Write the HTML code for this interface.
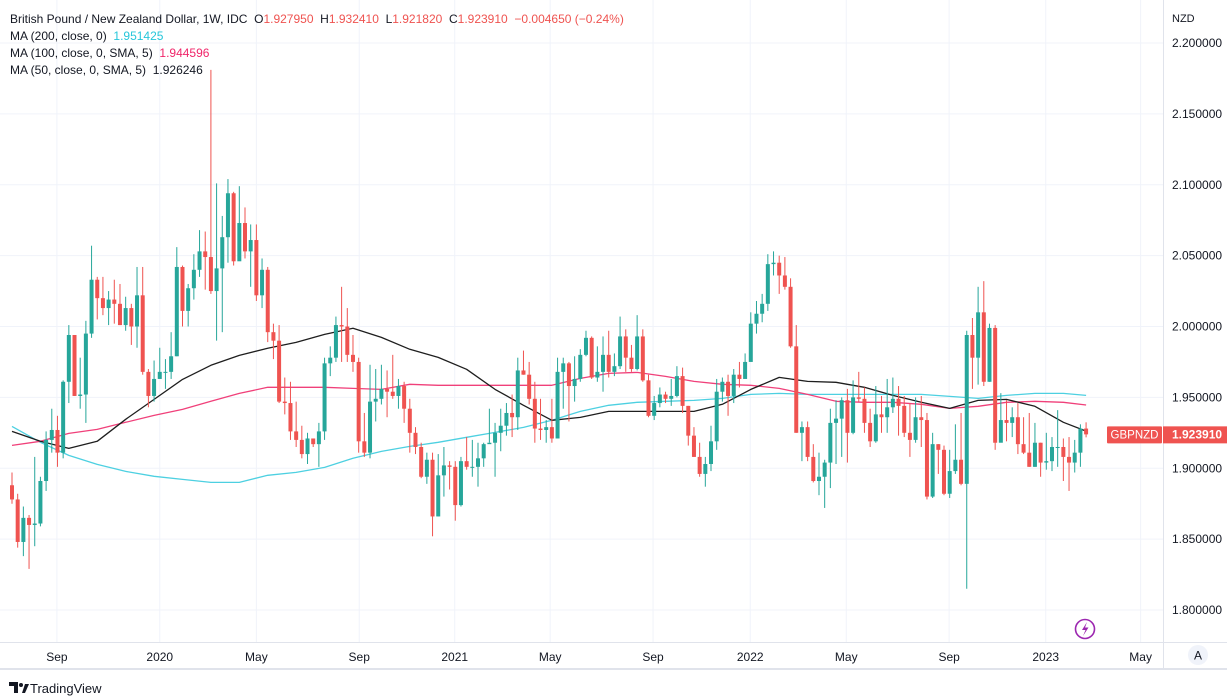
<!DOCTYPE html>
<html><head><meta charset="utf-8">
<style>
html,body{margin:0;padding:0;background:#fff;}
body{width:1227px;height:700px;overflow:hidden;position:relative;font-family:"Liberation Sans",sans-serif;}
#chart{position:absolute;left:0;top:0;}
.legend{position:absolute;left:10px;font-size:12px;color:#131722;white-space:nowrap;}
.red{color:#ef5350}
</style></head>
<body>
<svg id="chart" width="1227" height="700" xmlns="http://www.w3.org/2000/svg"></svg>
<div class="legend" style="top:12px">British Pound / New Zealand Dollar, 1W, IDC&nbsp;&nbsp;O<span class="red">1.927950</span>&nbsp;&nbsp;H<span class="red">1.932410</span>&nbsp;&nbsp;L<span class="red">1.921820</span>&nbsp;&nbsp;C<span class="red">1.923910</span>&nbsp;&nbsp;<span class="red">−0.004650 (−0.24%)</span></div>
<div class="legend" style="top:29px">MA (200, close, 0)&nbsp;&nbsp;<span style="color:#26c6da">1.951425</span></div>
<div class="legend" style="top:46px">MA (100, close, 0, SMA, 5)&nbsp;&nbsp;<span style="color:#f0266a">1.944596</span></div>
<div class="legend" style="top:63px">MA (50, close, 0, SMA, 5)&nbsp;&nbsp;<span style="color:#131722">1.926246</span></div>
<script>
const closes=[1.878,1.848,1.865,1.860,1.861,1.891,1.920,1.927,1.911,1.961,1.994,1.951,1.952,1.995,2.033,2.020,2.013,2.019,2.016,2.001,2.013,2.000,2.022,1.968,1.951,1.963,1.968,1.968,1.979,2.042,2.011,2.027,2.040,2.053,2.049,2.025,2.041,2.063,2.094,2.046,2.073,2.053,2.061,2.022,2.040,1.996,1.990,1.947,1.946,1.926,1.920,1.910,1.921,1.917,1.926,1.974,1.978,2.001,2.000,1.980,1.975,1.919,1.911,1.947,1.949,1.956,1.954,1.951,1.958,1.942,1.925,1.915,1.894,1.906,1.866,1.895,1.902,1.901,1.874,1.905,1.901,1.901,1.907,1.917,1.918,1.925,1.930,1.939,1.936,1.969,1.966,1.949,1.928,1.927,1.929,1.921,1.968,1.974,1.958,1.963,1.980,1.992,1.964,1.968,1.980,1.968,1.972,1.993,1.978,1.970,1.993,1.962,1.937,1.946,1.952,1.949,1.951,1.965,1.944,1.923,1.908,1.896,1.903,1.919,1.954,1.961,1.951,1.966,1.963,1.975,2.002,2.009,2.016,2.044,2.045,2.036,2.028,1.986,1.925,1.929,1.908,1.891,1.894,1.904,1.932,1.935,1.948,1.925,1.950,1.949,1.932,1.919,1.938,1.936,1.943,1.949,1.944,1.925,1.920,1.936,1.934,1.880,1.917,1.913,1.882,1.898,1.906,1.889,1.994,1.978,2.010,1.961,1.999,1.918,1.934,1.932,1.936,1.917,1.911,1.901,1.918,1.904,1.905,1.915,1.915,1.908,1.904,1.911,1.928,1.9239];
const highs=[1.897,1.882,1.873,1.867,1.908,1.894,1.926,1.942,1.937,1.962,2.001,1.993,1.978,2.004,2.057,2.035,2.035,2.025,2.033,2.030,2.021,2.016,2.042,2.042,1.970,1.976,1.985,1.977,1.996,2.056,2.043,2.030,2.051,2.068,2.067,2.181,2.101,2.078,2.104,2.095,2.099,2.084,2.072,2.072,2.048,2.042,2.002,2.001,1.964,1.961,1.947,1.930,1.925,1.921,1.932,1.978,1.986,2.007,2.028,2.013,1.994,1.978,1.939,1.973,1.970,1.973,1.969,1.980,1.963,1.961,1.949,1.929,1.918,1.911,1.911,1.910,1.915,1.905,1.905,1.908,1.922,1.920,1.918,1.918,1.942,1.932,1.942,1.946,1.952,1.978,1.983,1.975,1.961,1.949,1.934,1.949,1.978,1.978,1.975,1.979,1.984,1.997,1.993,1.986,1.993,1.997,1.981,2.007,1.998,1.987,2.008,1.998,1.966,1.951,1.957,1.954,1.963,1.972,1.971,1.944,1.929,1.918,1.908,1.930,1.963,1.964,1.966,1.970,1.975,1.981,2.010,2.018,2.023,2.051,2.053,2.050,2.049,2.034,2.001,1.933,1.933,1.917,1.911,1.906,1.942,1.948,1.950,1.956,1.962,1.968,1.957,1.942,1.958,1.951,1.963,1.964,1.958,1.951,1.946,1.950,1.951,1.939,1.925,1.917,1.916,1.913,1.931,1.939,1.997,2.006,2.028,2.032,2.002,2.001,1.953,1.948,1.943,1.946,1.936,1.939,1.932,1.918,1.925,1.922,1.941,1.921,1.922,1.920,1.931,1.9324];
const lows=[1.875,1.844,1.838,1.829,1.845,1.859,1.884,1.911,1.901,1.907,1.946,1.951,1.942,1.932,1.992,2.005,2.008,2.001,2.002,2.001,1.997,1.987,1.985,1.966,1.943,1.947,1.963,1.956,1.963,1.979,2.000,2.000,2.019,2.035,2.026,2.023,1.990,1.996,2.045,2.043,2.047,2.048,2.028,2.018,2.013,1.989,1.977,1.946,1.938,1.920,1.915,1.907,1.903,1.915,1.901,1.920,1.965,1.975,1.975,1.975,1.968,1.911,1.908,1.907,1.933,1.945,1.936,1.949,1.942,1.932,1.911,1.910,1.893,1.889,1.852,1.866,1.880,1.885,1.863,1.873,1.899,1.894,1.887,1.901,1.918,1.894,1.912,1.923,1.922,1.927,1.966,1.945,1.918,1.920,1.918,1.918,1.921,1.942,1.933,1.947,1.961,1.979,1.963,1.961,1.954,1.964,1.965,1.970,1.968,1.968,1.969,1.961,1.936,1.934,1.943,1.946,1.944,1.950,1.939,1.916,1.908,1.894,1.887,1.898,1.913,1.947,1.937,1.946,1.957,1.964,1.978,1.995,2.003,2.011,2.036,2.023,2.026,1.985,1.925,1.905,1.905,1.890,1.881,1.872,1.886,1.903,1.908,1.904,1.924,1.947,1.925,1.915,1.918,1.925,1.925,1.939,1.923,1.922,1.908,1.918,1.915,1.878,1.879,1.896,1.881,1.879,1.896,1.888,1.815,1.956,1.959,1.958,1.961,1.913,1.919,1.919,1.922,1.910,1.910,1.901,1.901,1.894,1.899,1.898,1.901,1.891,1.884,1.897,1.901,1.9218];
const firstOpen=1.888;
// moving averages sampled every 5 weeks (week index list)
const maIdx=[0,5,10,15,20,25,30,35,40,45,50,55,60,65,70,75,80,85,90,95,100,105,110,115,120,125,130,135,140,145,150,155,160,165,170,175,180,185,189];
const ma50=[1.926,1.919,1.914,1.919,1.9345,1.9486,1.9627,1.9726,1.9796,1.9846,1.9888,1.9944,1.9987,1.9923,1.9839,1.9782,1.9698,1.9556,1.9444,1.9338,1.9359,1.9401,1.9401,1.9401,1.9401,1.9451,1.9556,1.9641,1.9613,1.9606,1.9571,1.9514,1.9465,1.9422,1.9479,1.9486,1.9437,1.9324,1.9262];
const ma100=[1.9161,1.919,1.9246,1.9274,1.9324,1.9373,1.9415,1.9472,1.9528,1.9571,1.9571,1.9571,1.9563,1.9556,1.9592,1.9585,1.9585,1.9585,1.9585,1.9585,1.9634,1.9669,1.9676,1.9648,1.9613,1.9592,1.9585,1.9563,1.9521,1.9472,1.9465,1.9465,1.9451,1.9422,1.9437,1.9465,1.9472,1.9465,1.9446];
const ma200=[1.9295,1.9183,1.9091,1.9027,1.8978,1.8943,1.8921,1.890,1.890,1.895,1.8971,1.9006,1.907,1.9119,1.9154,1.9183,1.9218,1.9253,1.9288,1.9338,1.9401,1.9444,1.9465,1.9472,1.9479,1.9493,1.9521,1.9528,1.9521,1.9521,1.9521,1.9521,1.9521,1.9507,1.9493,1.9514,1.9528,1.9528,1.9514];
const priceTicks=[2.2,2.15,2.1,2.05,2.0,1.95,1.9,1.85,1.8];
const timeLabels=["Sep","2020","May","Sep","2021","May","Sep","2022","May","Sep","2023","May"];
const timeWeeks=[7.9,26.0,43.0,61.1,77.9,94.7,112.8,129.9,146.8,164.9,181.9,198.6];
const lastPrice=1.92391;

const svg=document.getElementById('chart');
const NS='http://www.w3.org/2000/svg';
const X=i=>12+i*5.683;
const Y=p=>43+(2.2-p)*1417.5;
function mk(tag,attrs,parent){const e=document.createElementNS(NS,tag);for(const k in attrs)e.setAttribute(k,attrs[k]);(parent||svg).appendChild(e);return e;}

const grid=mk('g',{});


priceTicks.forEach(p=>{
  const l=mk('line',{x1:0,x2:1163,y1:Y(p),y2:Y(p),stroke:'#f0f3fa','stroke-width':1},grid);
  
  
  const t=mk('text',{x:1172,y:Y(p)+4,'font-size':'12','fill':'#131722','font-family':'Liberation Sans, sans-serif'});
  t.textContent=p.toFixed(6);
  
  
});
timeWeeks.forEach((w,k)=>{
  const x=X(w);
  const l=mk('line',{x1:x,x2:x,y1:0,y2:642,stroke:'#f0f3fa','stroke-width':1},grid);
  
  
  const t=mk('text',{x:x,y:661,'font-size':'12','fill':'#131722','text-anchor':'middle','font-family':'Liberation Sans, sans-serif'});
  t.textContent=timeLabels[k];
  
  
});

function maLine(arr,color,name){
  const pts=maIdx.map((w,k)=>X(w).toFixed(1)+','+Y(arr[k]).toFixed(1)).join(' ');
  const pl=mk('polyline',{points:pts,fill:'none',stroke:color,'stroke-width':1.3,'stroke-linejoin':'round'});
  
  
}
maLine(ma200,'#4dd0e1','ma200-line');
maLine(ma100,'#f0407a','ma100-line');
maLine(ma50,'#1e1e1e','ma50-line');

const cg=mk('g',{});


closes.forEach((c,i)=>{
  const o=i===0?firstOpen:closes[i-1];
  const col=c>=o?'#26a69a':'#ef5350';
  const x=X(i);
  const g=mk('g',{},cg);
  
  
  mk('line',{x1:x,x2:x,y1:Y(highs[i]),y2:Y(lows[i]),stroke:col,'stroke-width':1},g);
  const top=Y(Math.max(o,c)),bot=Y(Math.min(o,c));
  mk('rect',{x:x-2,y:top,width:4,height:Math.max(1,bot-top),fill:col},g);
});

// axes borders
const ax=mk('line',{x1:1163.5,x2:1163.5,y1:0,y2:668,stroke:'#e0e3eb','stroke-width':1});


const tx=mk('line',{x1:0,x2:1227,y1:642.5,y2:642.5,stroke:'#e0e3eb','stroke-width':1});


const bx=mk('rect',{x:0,y:668,width:1227,height:2,fill:'#e0e3eb'});



const cur=mk('text',{x:1172,y:22,'font-size':'11','fill':'#131722','font-family':'Liberation Sans, sans-serif'});
cur.textContent='NZD';



// last price labels
const ly=Y(lastPrice);
const sb=mk('rect',{x:1107,y:ly-8,width:55,height:17,fill:'#ef5350',rx:1});


const st=mk('text',{x:1134.5,y:ly+4,'font-size':'11.5','fill':'#fff','text-anchor':'middle','font-family':'Liberation Sans, sans-serif'});
st.textContent='GBPNZD';


const pb=mk('rect',{x:1163,y:ly-8,width:64,height:17,fill:'#ef5350'});


const pt=mk('text',{x:1172,y:ly+4,'font-size':'12','fill':'#fff','font-weight':'bold','font-family':'Liberation Sans, sans-serif'});
pt.textContent=lastPrice.toFixed(6);



// auto-scale button
const ab=mk('circle',{cx:1198,cy:655,r:10,fill:'#f0f3fa'});


const at=mk('text',{x:1198,y:659.5,'font-size':'12','fill':'#131722','text-anchor':'middle','font-family':'Liberation Sans, sans-serif'});
at.textContent='A';



// lightning icon
const li=mk('g',{});


mk('circle',{cx:1085,cy:629,r:9.5,fill:'#fff',stroke:'#9c27b0','stroke-width':1.6},li);
mk('path',{d:'M1087,622 L1082,630 L1085.5,630 L1083,636 L1088.5,627.5 L1085,627.5 Z',fill:'#9c27b0'},li);

// footer logo
const fg=mk('g',{});


mk('path',{d:'M9,682 h9 v11 h-4 v-7 h-5 Z',fill:'#131722'},fg);
mk('circle',{cx:21,cy:685,r:2,fill:'#131722'},fg);
mk('path',{d:'M22,693 l3,-9 h4 l-4,9 Z',fill:'#131722'},fg);
const ft=mk('text',{x:30,y:693,'font-size':'13','fill':'#131722','font-family':'Liberation Sans, sans-serif'});
ft.textContent='TradingView';


</script>
</body></html>
